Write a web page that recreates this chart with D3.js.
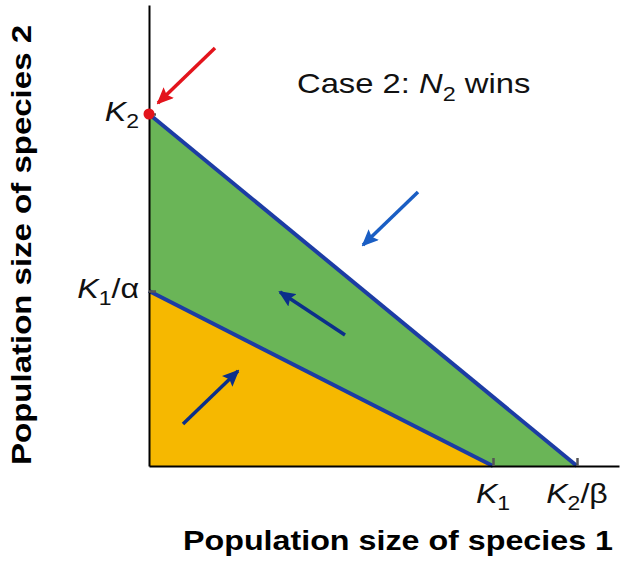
<!DOCTYPE html>
<html>
<head>
<meta charset="utf-8">
<script src="https://cdn.jsdelivr.net/npm/d3@7"></script>
<style>
  body { margin: 0; background: #fff; }
  svg { display: block; font-family: "Liberation Sans", Arial, Helvetica, sans-serif; }
</style>
</head>
<body>
<svg id="chart" width="625" height="569"></svg>
<script>
// 轴范围（任意种群单位）
const xMax = 470;
const yMax = 461;

// 平衡点 / 截距
const K1 = 344;
const K2overBeta = 428;
const K2 = 352;
const K1overAlpha = 175;

// 刻度标签
const xTicks = [{v: K1, sub: "1", tail: ""}, {v: K2overBeta, sub: "2", tail: "/β"}];
const yTicks = [{v: K2, sub: "2", tail: ""}, {v: K1overAlpha, sub: "1", tail: "/α"}];

// 方向箭头 [起点, 终点]
const arrows = [
    {from: [34, 42], to: [89, 95], color: "#0b2f8a"},
    {from: [196, 131], to: [131, 174], color: "#0b2f8a"},
    {from: [269, 274], to: [214, 221], color: "#1a5ec4"},
    {from: [66, 418], to: [9, 363], color: "#e3141c"}
];

const svg = d3.select("#chart");
const margin = {left: 149, right: 6, top: 5, bottom: 103};
const width = 625 - margin.left - margin.right;
const height = 569 - margin.top - margin.bottom;

const x = d3.scaleLinear().domain([0, xMax]).range([margin.left, margin.left + width]);
const y = d3.scaleLinear().domain([0, yMax]).range([margin.top + height, margin.top]);

// 文字横向拉伸（原图字体较宽）
const sx = 1.15;

// 箭头标记
const defs = svg.append("defs");
arrows.forEach((a, i) => {
    defs.append("marker")
        .attr("id", "head" + i)
        .attr("markerUnits", "userSpaceOnUse")
        .attr("viewBox", "0 0 17 15")
        .attr("refX", 15).attr("refY", 7.5)
        .attr("markerWidth", 17).attr("markerHeight", 15)
        .attr("orient", "auto")
        .append("path")
        .attr("d", "M0,0 L17,7.5 L0,15 L3,7.5 Z")
        .attr("fill", a.color);
});

// 填充区域
svg.append("path")
    .attr("d", d3.line()([[x(0), y(K2)], [x(K2overBeta), y(0)], [x(K1), y(0)], [x(0), y(K1overAlpha)]]))
    .attr("fill", "#6ab557");
svg.append("path")
    .attr("d", d3.line()([[x(0), y(K1overAlpha)], [x(K1), y(0)], [x(0), y(0)]]))
    .attr("fill", "#f6b800");

// 等斜线
svg.append("line")
    .attr("x1", x(0)).attr("y1", y(K2)).attr("x2", x(K2overBeta)).attr("y2", y(0))
    .attr("stroke", "#1c3ca4").attr("stroke-width", 4);
svg.append("line")
    .attr("x1", x(0)).attr("y1", y(K1overAlpha)).attr("x2", x(K1)).attr("y2", y(0))
    .attr("stroke", "#1c3ca4").attr("stroke-width", 4);

// 坐标轴
const axisX = svg.append("g").attr("transform", `translate(0,${y(0)})`)
    .call(d3.axisTop(x).tickValues(xTicks.map(d => d.v)).tickSize(8).tickSizeOuter(0).tickFormat(""));
const axisY = svg.append("g").attr("transform", `translate(${x(0)},0)`)
    .call(d3.axisRight(y).tickValues(yTicks.map(d => d.v)).tickSize(7).tickSizeOuter(0).tickFormat(""));
[axisX, axisY].forEach(g => {
    g.select(".domain").attr("stroke", "#000").attr("stroke-width", 2);
    g.selectAll(".tick line").attr("stroke", "#555").attr("stroke-width", 2.5);
});

// 刻度文字
function kLabel(sel) {
    sel.append("tspan").attr("font-style", "italic").text("K");
    sel.append("tspan").attr("font-size", "20px").attr("dy", 7).text(d => d.sub);
    sel.append("tspan").attr("dy", -7).text(d => d.tail);
}
svg.selectAll(".xlab").data(xTicks).join("g")
    .attr("class", "xlab")
    .attr("transform", d => `translate(${x(d.v)},${y(0) + 37}) scale(${sx},1)`)
    .append("text")
    .attr("text-anchor", "middle").attr("font-size", "28px").attr("fill", "#111")
    .call(kLabel);
svg.selectAll(".ylab").data(yTicks).join("g")
    .attr("class", "ylab")
    .attr("transform", d => `translate(${x(0) - 10},${y(d.v) + 7}) scale(${sx},1)`)
    .append("text")
    .attr("text-anchor", "end").attr("font-size", "28px").attr("fill", "#111")
    .call(kLabel);

// 轴标题
svg.append("text")
    .attr("x", 183).attr("y", 550)
    .attr("font-size", "28px").attr("font-weight", "bold")
    .attr("textLength", 430).attr("lengthAdjust", "spacingAndGlyphs")
    .text("Population size of species 1");
svg.append("text")
    .attr("transform", "translate(31,465) rotate(-90)")
    .attr("font-size", "28px").attr("font-weight", "bold")
    .attr("textLength", 440).attr("lengthAdjust", "spacingAndGlyphs")
    .text("Population size of species 2");

// 标题
const title = svg.append("g")
    .attr("transform", `translate(297,93) scale(1.17,1)`)
    .append("text").attr("font-size", "28px").attr("fill", "#111");
title.append("tspan").text("Case 2: ");
title.append("tspan").attr("font-style", "italic").text("N");
title.append("tspan").attr("font-size", "20px").attr("dy", 8).text("2");
title.append("tspan").attr("dy", -8).text(" wins");

// 箭头
svg.selectAll(".arrow").data(arrows).join("line")
    .attr("class", "arrow")
    .attr("x1", d => x(d.from[0])).attr("y1", d => y(d.from[1]))
    .attr("x2", d => x(d.to[0])).attr("y2", d => y(d.to[1]))
    .attr("stroke", d => d.color).attr("stroke-width", 3.5)
    .attr("marker-end", (d, i) => `url(#head${i})`);

// 红点
svg.append("circle")
    .attr("cx", x(0)).attr("cy", y(K2)).attr("r", 5.5)
    .attr("fill", "#e3141c");
</script>
</body>
</html>
